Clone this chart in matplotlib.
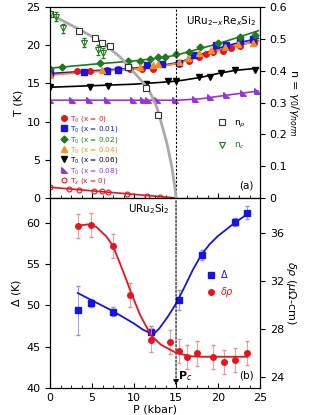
import matplotlib.pyplot as plt
import numpy as np

# === Top panel data: T0 (K) vs P (kbar) ===
P_x0 = [0, 3.2, 4.8, 6.8, 8.1, 9.5, 11.0, 12.3, 15.3, 16.5, 17.7, 18.6, 19.4, 20.6, 21.6, 22.6, 24.3]
T_x0 = [16.2, 16.6, 16.65, 16.8, 16.85, 16.9, 16.95, 16.95, 17.6, 18.0, 18.5, 18.8, 19.1, 19.3, 19.6, 19.9, 20.3]

P_x01 = [0, 4.0, 6.8, 8.1, 9.3, 11.5, 13.3, 15.3, 17.1, 19.8, 21.0, 22.6, 24.2]
T_x01 = [16.3, 16.5, 16.65, 16.8, 17.2, 17.4, 17.6, 17.7, 18.7, 20.0, 20.0, 20.6, 20.8]

P_x02 = [0, 1.4, 6.0, 9.3, 10.7, 11.9, 12.9, 13.7, 15.0, 16.5, 17.9, 20.0, 22.6, 24.4]
T_x02 = [16.95, 17.2, 17.7, 17.9, 18.0, 18.2, 18.5, 18.5, 18.8, 19.1, 19.8, 20.3, 21.1, 21.4]

P_x04 = [0, 6.2, 10.7, 12.3, 12.9, 15.3, 16.4, 17.7, 19.2, 20.8, 22.4, 24.2]
T_x04 = [16.1, 16.7, 17.2, 17.4, 17.5, 17.8, 18.3, 19.0, 19.4, 19.8, 20.1, 20.3]

P_x06 = [0, 4.8, 6.9, 11.4, 14.1, 15.0, 17.7, 19.0, 20.4, 22.0, 24.4]
T_x06 = [14.5, 14.5, 14.6, 14.9, 15.3, 15.3, 15.8, 15.9, 16.4, 16.7, 16.8]

P_x08 = [0, 2.6, 4.6, 6.75, 9.9, 11.1, 11.7, 12.7, 14.9, 17.3, 19.0, 21.0, 23.0, 24.6]
T_x08 = [12.8, 12.8, 12.8, 12.8, 12.8, 12.8, 12.8, 12.8, 12.8, 13.0, 13.2, 13.5, 13.8, 14.0]

P_Tx = [0, 2.3, 3.5, 5.2, 6.2, 6.9, 9.2, 11.5, 13.1]
T_Tx = [1.4, 1.14, 1.05, 0.95, 0.87, 0.78, 0.52, 0.26, 0.09]

# fit lines
Pl = [0, 5, 10, 12, 14, 15, 16, 18, 20, 22, 24.8]
L_x0 = [16.2, 16.55, 16.9, 17.1, 17.4, 17.6, 17.9, 18.6, 19.3, 19.9, 20.6]
L_x01 = [16.3, 16.65, 17.0, 17.2, 17.5, 17.7, 18.0, 18.8, 19.6, 20.2, 20.9]
L_x04 = [16.1, 16.5, 16.9, 17.1, 17.4, 17.6, 17.9, 18.6, 19.3, 19.9, 20.5]
L_x02 = [17.0, 17.5, 17.95, 18.2, 18.5, 18.7, 19.0, 19.6, 20.2, 20.9, 21.9]
L_x06 = [14.5, 14.7, 14.9, 15.05, 15.2, 15.3, 15.45, 15.8, 16.3, 16.7, 17.0]
L_x08 = [12.8, 12.8, 12.8, 12.8, 12.8, 12.8, 12.85, 13.0, 13.3, 13.6, 14.0]
P_Txl = [0, 15]
L_Tx = [1.4, 0]

# n = gamma0/gamma_norm (right axis)
P_nrho = [0, 3.5, 5.3, 6.15, 7.1, 9.25, 11.4, 12.9]
n_rho = [0.578, 0.526, 0.503, 0.488, 0.478, 0.412, 0.345, 0.261]
P_nc = [0, 0.7, 1.5, 4.0, 5.75, 6.35]
n_c = [0.578, 0.57, 0.533, 0.488, 0.465, 0.456]
nc_err = [0.01, 0.015, 0.015, 0.015, 0.015, 0.015]
P_ngray = [0, 3.6, 6.15, 8.3, 10.3, 11.7, 12.7, 13.1, 13.9, 14.5, 14.85, 15.0]
n_gray = [0.578, 0.528, 0.49, 0.444, 0.386, 0.343, 0.286, 0.25, 0.173, 0.098, 0.036, 0.0]

# === Bottom panel data ===
P_b = [3.3, 4.85, 7.46, 12.0, 15.3, 18.06, 22.0, 23.5]
Delta = [49.4, 50.3, 49.25, 46.8, 50.7, 56.1, 60.1, 61.2]
Delta_err = [3.0, 0.5, 0.5, 0.7, 1.2, 0.6, 0.5, 0.8]
P_d = [3.3, 4.85, 7.46, 9.52, 12.0, 14.3, 15.3, 16.35, 17.5, 19.45, 20.7, 22.0, 23.5]
drho = [36.6, 36.67, 34.9, 30.8, 27.1, 26.9, 26.2, 25.7, 25.97, 25.7, 25.3, 25.4, 26.0]
drho_err = [1.0] * 13

P_Dl = [3.3, 5, 7.5, 10, 11, 12, 12.5, 13, 14, 15, 16, 17, 18, 19, 20, 21, 22, 23, 23.5]
L_Delta = [51.5, 50.6, 49.3, 47.8, 47.1, 46.6, 46.7, 47.2, 48.6, 50.2, 52.2, 54.3, 56.1, 57.4, 58.4, 59.2, 60.0, 60.7, 61.1]
P_dl = [3.3, 4.5, 5.5, 6.7, 7.5, 8.7, 9.5, 10.7, 12, 13.2, 14.8, 16.5, 18, 23.5]
L_drho = [36.6, 36.7, 36.5, 35.7, 34.9, 32.8, 31.3, 29.2, 27.5, 26.7, 26.1, 25.75, 25.7, 25.7]

RED, BLUE, GREEN, ORANGE, PURPLE, GRAY = "#e8141b", "#1414e6", "#1f7a1f", "#ff8c1a", "#9933dd", "#aaaaaa"
tri_ll = [(-1, -1), (1, -1), (-1, 1), (-1, -1)]

plt.rcParams["font.size"] = 8
fig = plt.figure(figsize=(3.21, 4.15), dpi=100)
ax1 = fig.add_axes([0.156, 0.523, 0.654, 0.46])
ax2 = fig.add_axes([0.156, 0.065, 0.654, 0.458])
ax1r = ax1.twinx()
ax2r = ax2.twinx()

# --- top ---
ms = 4
ax1.plot(Pl, L_x0, color=RED, lw=1.2)
ax1.plot(Pl, L_x01, color=BLUE, lw=1.2)
ax1.plot(Pl, L_x04, color=ORANGE, lw=1.2)
ax1.plot(Pl, L_x02, color=GREEN, lw=1.2)
ax1.plot(Pl, L_x06, color="black", lw=1.2)
ax1.plot(Pl, L_x08, color=PURPLE, lw=1.2)
ax1.plot(P_Txl, L_Tx, color=RED, lw=1.2)
h0, = ax1.plot(P_x0, T_x0, "o", color=RED, ms=ms, ls="none", label="T$_0$ (x = 0)")
h1, = ax1.plot(P_x01, T_x01, "s", color=BLUE, ms=ms, ls="none", label="T$_0$ (x = 0.01)")
h2, = ax1.plot(P_x02, T_x02, "D", color=GREEN, ms=3.5, ls="none", label="T$_0$ (x = 0.02)")
h4, = ax1.plot(P_x04, T_x04, "^", color=ORANGE, ms=ms, ls="none", label="T$_0$ (x = 0.04)")
h6, = ax1.plot(P_x06, T_x06, "v", color="black", ms=ms, ls="none", label="T$_0$ (x = 0.06)")
h8, = ax1.plot(P_x08, T_x08, marker=tri_ll, color=PURPLE, ms=ms, ls="none", label="T$_0$ (x = 0.08)")
hx, = ax1.plot(P_Tx, T_Tx, "o", mfc="none", mec=RED, ms=3.5, mew=0.8, ls="none", label="T$_x$ (x = 0)")

ax1r.plot(P_ngray, n_gray, color=GRAY, lw=2)
hr, = ax1r.plot(P_nrho, n_rho, "s", mfc="white", mec="#333333", ms=4.5, mew=0.8, ls="none", label="n$_\\rho$")
ax1r.errorbar(P_nc, n_c, yerr=nc_err, fmt="none", ecolor=GREEN, elinewidth=0.6, capsize=1.5)
hc, = ax1r.plot(P_nc, n_c, "v", mfc="none", mec=GREEN, ms=5, mew=0.8, ls="none", label="n$_c$")

ax1.set_xlim(0, 25)
ax1.set_ylim(0, 25)
ax1r.set_ylim(0, 0.6)
ax1.set_yticks([0, 5, 10, 15, 20, 25])
ax1r.set_yticks([0, 0.1, 0.2, 0.3, 0.4, 0.5, 0.6])
ax1r.set_yticklabels(["0", "0.1", "0.2", "0.3", "0.4", "0.5", "0.6"])
ax1.set_ylabel("T (K)", labelpad=2)
ax1r.set_ylabel("n = $\\gamma_0/\\gamma_{norm}$", rotation=270, labelpad=10)
ax1.set_xticks([0, 5, 10, 15, 20, 25])
ax1.set_xticks(np.arange(0, 25.1, 1.25), minor=True)
ax1.tick_params(axis="x", direction="in", labelbottom=False, top=False)
ax1.tick_params(axis="x", which="minor", direction="in", length=2)

leg = ax1.legend(handles=[h0, h1, h2, h4, h6, h8, hx], loc="lower left", bbox_to_anchor=(0.02, 0.035),
                 frameon=False, fontsize=5.2, handletextpad=0.3, labelspacing=0.05, handlelength=1.2,
                 borderpad=0.2)
for t, c in zip(leg.get_texts(), [RED, BLUE, GREEN, ORANGE, "black", PURPLE, RED]):
    t.set_color(c)
leg2 = ax1r.legend(handles=[hr, hc], loc="center right", bbox_to_anchor=(0.97, 0.33),
                   frameon=False, fontsize=6.5, handletextpad=0.8, labelspacing=1.2, handlelength=1)
for t, c in zip(leg2.get_texts(), ["black", GREEN]):
    t.set_color(c)
ax1.text(0.98, 0.96, "URu$_{2\\mathrm{-}x}$Re$_x$Si$_2$", transform=ax1.transAxes, ha="right", va="top", fontsize=7.5)
ax1.text(0.97, 0.04, "(a)", transform=ax1.transAxes, ha="right", va="bottom", fontsize=7.5)
ax1.axvline(15, color="black", ls=(0, (2, 1.5)), lw=0.8)

# --- bottom ---
ax2.errorbar(P_b, Delta, yerr=Delta_err, fmt="none", ecolor="#8c8cf0", elinewidth=0.6, capsize=1.5)
ax2.plot(P_Dl, L_Delta, color=BLUE, lw=1.3)
hD, = ax2.plot(P_b, Delta, "s", color=BLUE, ms=4.5, ls="none", label="$\\Delta$")
ax2r.errorbar(P_d, drho, yerr=drho_err, fmt="none", ecolor="#f08c8c", elinewidth=0.6, capsize=1.5)
ax2r.plot(P_dl, L_drho, color=RED, lw=1.3)
hd, = ax2r.plot(P_d, drho, "o", color=RED, ms=4, ls="none", label="$\\delta\\rho$")

ax2.set_xlim(0, 25)
ax2.set_ylim(40, 63)
ax2r.set_ylim(23.1, 38.9)
ax2.set_yticks([40, 45, 50, 55, 60])
ax2r.set_yticks([24, 28, 32, 36])
ax2.set_xticks([0, 5, 10, 15, 20, 25])
ax2.set_xticks(np.arange(0, 25.1, 1.25), minor=True)
ax2.tick_params(axis="x", direction="in")
ax2.tick_params(axis="x", which="minor", direction="in", length=2)
ax2.set_xlabel("P (kbar)", labelpad=1)
ax2.set_ylabel("$\\Delta$ (K)", labelpad=2)
ax2r.set_ylabel("$\\delta\\rho$ ($\\mu\\Omega$-cm)", rotation=270, labelpad=10)
leg3 = ax2.legend(handles=[hD, hd], loc="center right", bbox_to_anchor=(0.92, 0.55),
                  frameon=False, fontsize=7, handletextpad=0.5, labelspacing=0.5, handlelength=1)
for t, c in zip(leg3.get_texts(), [BLUE, RED]):
    t.set_color(c)
ax2.text(0.47, 0.98, "URu$_2$Si$_2$", transform=ax2.transAxes, ha="center", va="top", fontsize=7.5)
ax2.text(0.97, 0.04, "(b)", transform=ax2.transAxes, ha="right", va="bottom", fontsize=7.5)
ax2.annotate("", xy=(15, 40), xytext=(15, 63),
             arrowprops=dict(arrowstyle="-|>", color="black", lw=0.8, ls=(0, (2, 1.5)), mutation_scale=8))
ax2.text(15.2, 40.6, "P$_c$", fontsize=8, fontweight="bold", ha="left", va="bottom")

fig.savefig("out.png", dpi=100)
